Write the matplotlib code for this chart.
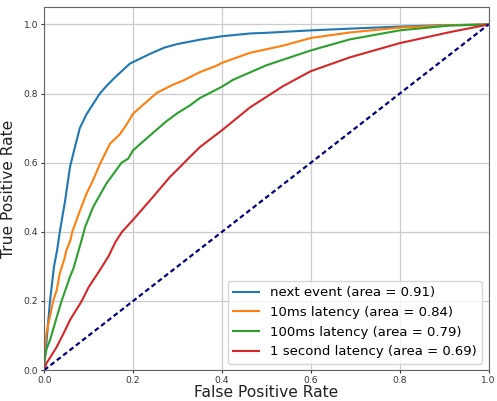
import matplotlib
matplotlib.use("Agg")
import matplotlib.pyplot as plt

# ROC points
fpr_next = [0, 0, 0.005, 0.013, 0.022, 0.029, 0.035, 0.047, 0.058, 0.069, 0.08, 0.095,
            0.11, 0.125, 0.14, 0.16, 0.193, 0.238, 0.27, 0.298, 0.35, 0.4, 0.463, 0.5, 0.6,
            0.688, 0.8, 0.9, 1.0]
tpr_next = [0, 0.03, 0.08, 0.2, 0.3, 0.347, 0.4, 0.49, 0.588, 0.645, 0.70, 0.74,
            0.77, 0.80, 0.822, 0.848, 0.887, 0.915, 0.933, 0.943, 0.956, 0.966, 0.974, 0.976,
            0.983, 0.988, 0.994, 0.998, 1.0]

fpr_10ms = [0, 0, 0.005, 0.012, 0.02, 0.028, 0.035, 0.045, 0.05, 0.059, 0.063, 0.08, 0.095,
            0.11, 0.126, 0.148, 0.17, 0.185, 0.2, 0.238, 0.253, 0.29, 0.313, 0.35, 0.388,
            0.4, 0.463, 0.538, 0.6, 0.688, 0.8, 0.913, 1.0]
tpr_10ms = [0, 0.05, 0.107, 0.15, 0.2, 0.231, 0.28, 0.32, 0.347, 0.376, 0.4, 0.46, 0.51,
            0.55, 0.598, 0.655, 0.682, 0.71, 0.742, 0.785, 0.802, 0.826, 0.838, 0.862, 0.881,
            0.889, 0.918, 0.939, 0.961, 0.977, 0.991, 0.998, 1.0]

fpr_100ms = [0, 0, 0.005, 0.013, 0.024, 0.035, 0.039, 0.058, 0.066, 0.084, 0.092, 0.11,
             0.14, 0.174, 0.189, 0.2, 0.238, 0.275, 0.298, 0.328, 0.35, 0.4, 0.425, 0.5,
             0.6, 0.688, 0.8, 0.913, 1.0]
tpr_100ms = [0, 0.02, 0.06, 0.087, 0.135, 0.183, 0.2, 0.27, 0.295, 0.376, 0.414, 0.472,
             0.54, 0.6, 0.612, 0.636, 0.679, 0.72, 0.742, 0.766, 0.787, 0.82, 0.84, 0.882,
             0.925, 0.957, 0.983, 0.997, 1.0]

fpr_1s = [0, 0.005, 0.015, 0.028, 0.045, 0.058, 0.07, 0.084, 0.1, 0.125, 0.145,
          0.16, 0.175, 0.2, 0.238, 0.283, 0.298, 0.328, 0.35, 0.4, 0.463, 0.538, 0.6,
          0.688, 0.8, 0.913, 1.0]
tpr_1s = [0, 0.02, 0.04, 0.067, 0.11, 0.145, 0.17, 0.199, 0.24, 0.289, 0.33,
          0.37, 0.4, 0.435, 0.491, 0.559, 0.578, 0.617, 0.645, 0.694, 0.76, 0.822, 0.865,
          0.905, 0.946, 0.978, 1.0]

labels = ["next event (area = 0.91)", "10ms latency (area = 0.84)",
          "100ms latency (area = 0.79)", "1 second latency (area = 0.69)"]
colors = ["#1f77b4", "#ff7f0e", "#2ca02c", "#d62728"]

fig = plt.figure(figsize=(4.97, 4.01), dpi=100)
ax = fig.add_axes([0.089, 0.077, 0.894, 0.905])

curves = [(fpr_next, tpr_next), (fpr_10ms, tpr_10ms), (fpr_100ms, tpr_100ms), (fpr_1s, tpr_1s)]
for (f, t), lab, c in zip(curves, labels, colors):
    ax.plot(f, t, color=c, lw=1.5, label=lab)

ax.plot([0, 1], [0, 1], color="navy", lw=1.6, linestyle=(0, (2.2, 1.4)))

ax.set_xlim(0, 1)
ax.set_ylim(0, 1.05)
ax.set_xticks([0, 0.2, 0.4, 0.6, 0.8, 1.0])
ax.set_yticks([0, 0.2, 0.4, 0.6, 0.8, 1.0])
ax.grid(True, color="#cccccc", lw=0.9)
ax.set_axisbelow(True)
ax.tick_params(labelsize=6.6, colors="#333333", length=2.5, width=0.8, pad=2)
for s in ax.spines.values():
    s.set_color("#666666")
ax.set_xlabel("False Positive Rate", fontsize=11.2, color="#222222", labelpad=0)
ax.set_ylabel("True Positive Rate", fontsize=11.2, color="#222222", labelpad=5)
ax.legend(loc="lower right", fontsize=9.5)

fig.savefig("out.png", dpi=100)
